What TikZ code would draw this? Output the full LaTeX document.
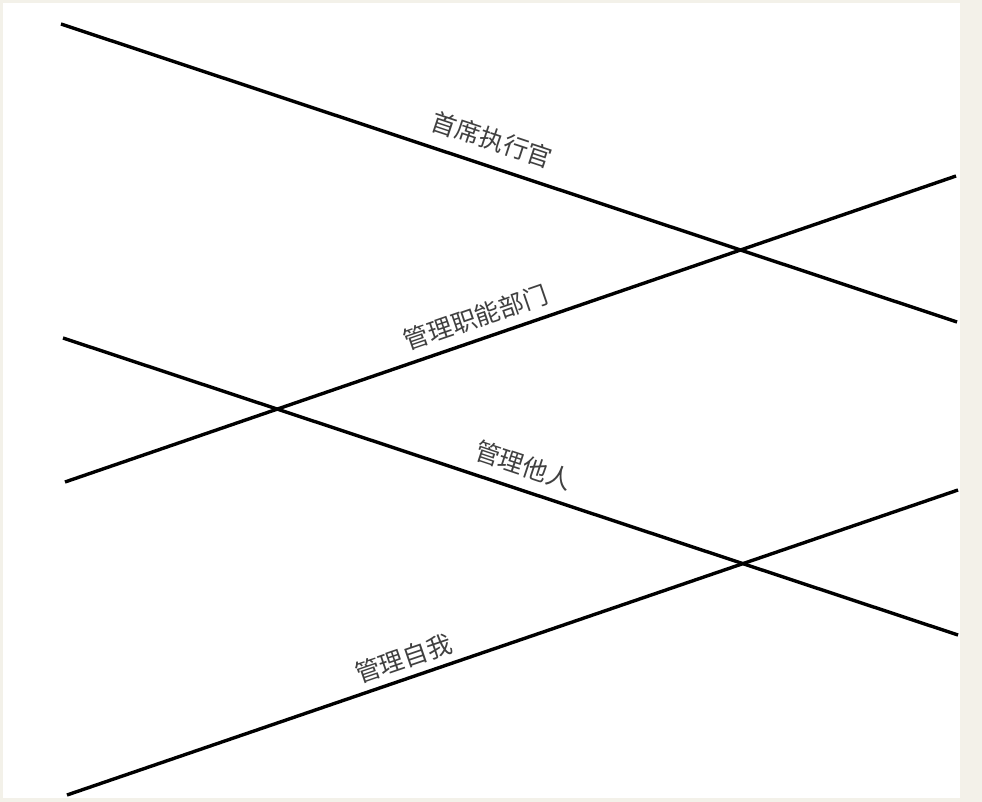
\documentclass[tikz,border=0pt]{standalone}
\usepackage{fontspec}
\newfontfamily\cjk{Noto Sans CJK SC}
\begin{document}
\begin{tikzpicture}[x=1pt,y=-1pt,
  axisline/.style={line width=3.4pt,black},
  lbl/.style={font=\cjk\fontsize{25}{27}\selectfont,text=black!75,inner sep=0pt,sloped}]
\useasboundingbox (0,0) rectangle (982,802);
\fill[fill={rgb,255:red,243;green,241;blue,233}] (0,0) rectangle (982,802);
\fill[white] (3,3) rectangle (960,798);
\coordinate (a1) at (61,24);
\coordinate (b1) at (957,322);
\coordinate (a2) at (65,482);
\coordinate (b2) at (956,176);
\coordinate (a3) at (63,338);
\coordinate (b3) at (958,635);
\coordinate (a4) at (67,795);
\coordinate (b4) at (958,490);
\draw[axisline] (a1) -- node[lbl,pos=0.472,above=13pt] (t1) {首席执行官} (b1);
\draw[axisline] (a2) -- node[lbl,pos=0.469,above=9pt] (t2) {管理职能部门} (b2);
\draw[axisline] (a3) -- node[lbl,pos=0.506,above=11pt] (t3) {管理他人} (b3);
\draw[axisline] (a4) -- node[lbl,pos=0.385,above=7pt] (t4) {管理自我} (b4);
\end{tikzpicture}
\end{document}
